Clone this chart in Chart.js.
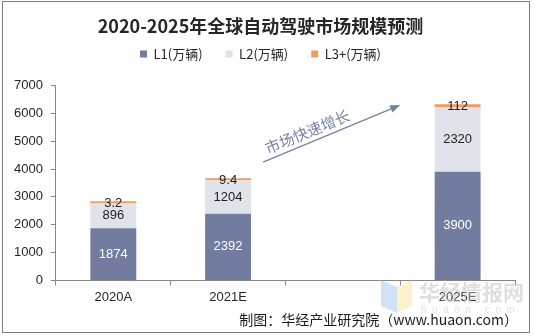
<!DOCTYPE html>
<html>
<head>
<meta charset="utf-8">
<script src="https://cdn.jsdelivr.net/npm/chart.js@4.4.1/dist/chart.umd.min.js"></script>
<style>
    body { margin: 0; background: #fff; }
    #wrap { position: relative; width: 535px; height: 336px; }
    #frame { position: absolute; left: 2px; top: 1px; width: 526px; height: 330px; border: 1px solid #808080; pointer-events: none; }
</style>
</head>
<body>
<div id="wrap">
    <canvas id="marketChart"></canvas>
    <div id="frame"></div>
</div>
<script>
// 数据
const categories = ["2020A", "2021E", "", "2025E"];
const l1Values = [1874, 2392, null, 3900];
const l2Values = [896, 1204, null, 2320];
const l3Values = [3.2, 9.4, null, 112];
const yTicks = [0, 1000, 2000, 3000, 4000, 5000, 6000, 7000];

const CJK = '"Noto Sans CJK SC", sans-serif';
const ARIAL = '"Liberation Sans", Arial, sans-serif';

// 柱内数值标签
const barLabels = {
    id: "barLabels",
    afterDatasetsDraw(chart) {
        const ctx = chart.ctx;
        ctx.save();
        ctx.font = "13px " + ARIAL;
        ctx.textAlign = "center";
        ctx.textBaseline = "middle";
        chart.data.datasets.forEach((ds, i) => {
            const meta = chart.getDatasetMeta(i);
            meta.data.forEach((bar, j) => {
                const v = ds.data[j];
                if (v === null) return;
                let y = (bar.y + bar.base) / 2;
                if (i === 2) y = bar.y + 2;
                ctx.fillStyle = i === 0 ? "#ffffff" : "#222222";
                ctx.fillText(String(v), bar.x, y);
            });
        });
        ctx.restore();
    }
};

// 图例下方留白
const legendGap = {
    id: "legendGap",
    beforeInit(chart) {
        const fit = chart.legend.fit;
        chart.legend.fit = function () {
            fit.bind(chart.legend)();
            this.height += 15;
        };
    }
};

// 箭头注释 + 来源 + 水印
const extras = {
    id: "extras",
    afterDraw(chart) {
        const ctx = chart.ctx;
        const x = chart.scales.x;
        const y = chart.scales.y;

        // 箭头
        const x0 = x.getPixelForValue(1) + 35;
        const y0 = y.getPixelForValue(4250);
        const x1 = (x.getPixelForValue(2) + x.getPixelForValue(3)) / 2;
        const y1 = y.getPixelForValue(6300);
        const ang = Math.atan2(y1 - y0, x1 - x0);
        ctx.save();
        ctx.strokeStyle = "#7780a3";
        ctx.fillStyle = "#7780a3";
        ctx.lineWidth = 1.2;
        ctx.beginPath();
        ctx.moveTo(x0, y0);
        ctx.lineTo(x1 - 8 * Math.cos(ang), y1 - 8 * Math.sin(ang));
        ctx.stroke();
        ctx.beginPath();
        ctx.moveTo(x1, y1);
        ctx.lineTo(x1 - 10 * Math.cos(ang) + 4 * Math.sin(ang), y1 - 10 * Math.sin(ang) - 4 * Math.cos(ang));
        ctx.lineTo(x1 - 10 * Math.cos(ang) - 4 * Math.sin(ang), y1 - 10 * Math.sin(ang) + 4 * Math.cos(ang));
        ctx.closePath();
        ctx.fill();

        // 文字
        const tx = (x0 + x1) / 2 - 20;
        const ty = y0 + (tx - x0) * Math.tan(ang);
        ctx.translate(tx, ty);
        ctx.rotate(ang);
        ctx.font = "15px " + CJK;
        ctx.textAlign = "center";
        ctx.textBaseline = "middle";
        ctx.fillText("市场快速增长", 0, -11);
        ctx.restore();

        // 水印
        ctx.save();
        ctx.globalAlpha = 0.55;
        ctx.fillStyle = "#a9c9f2";
        ctx.beginPath();
        ctx.moveTo(381, 280); ctx.lineTo(397, 287); ctx.lineTo(397, 313); ctx.lineTo(381, 306);
        ctx.closePath(); ctx.fill();
        ctx.fillStyle = "#fbe6a0";
        ctx.beginPath();
        ctx.moveTo(397, 287); ctx.lineTo(412, 280); ctx.lineTo(412, 306); ctx.lineTo(397, 313);
        ctx.closePath(); ctx.fill();
        ctx.fillStyle = "#c4c4c4";
        ctx.font = "bold 21px " + CJK;
        ctx.textAlign = "left";
        ctx.textBaseline = "middle";
        ctx.fillText("华经情报网", 419, 292);
        ctx.font = "10px " + ARIAL;
        ctx.fillText("h  u  a  o  n  .  c  o  m", 421, 310);
        ctx.restore();

        // 来源
        ctx.save();
        ctx.fillStyle = "#1a1a1a";
        ctx.font = "14px " + CJK;
        ctx.textAlign = "right";
        ctx.textBaseline = "middle";
        ctx.fillText("制图：华经产业研究院（www.huaon.com）", 518, 320);
        ctx.restore();
    }
};

new Chart(document.getElementById("marketChart"), {
    type: "bar",
    data: {
        labels: categories,
        datasets: [
            { label: "L1(万辆)", data: l1Values, backgroundColor: "#717c9f" },
            { label: "L2(万辆)", data: l2Values, backgroundColor: "#e0e3ea" },
            { label: "L3+(万辆)", data: l3Values, backgroundColor: "#f39c5a", minBarLength: 2 }
        ]
    },
    options: {
        responsive: true,
        maintainAspectRatio: false,
        animation: false,
        datasets: { bar: { categoryPercentage: 1, barPercentage: 0.4 } },
        layout: { padding: { left: 6, right: 20, bottom: 27, top: 0 } },
        plugins: {
            title: {
                display: true,
                text: "2020-2025年全球自动驾驶市场规模预测",
                color: "#262626",
                font: { family: CJK, size: 18, weight: "bold" },
                padding: { top: 15, bottom: -12 }
            },
            legend: {
                position: "top",
                labels: {
                    boxWidth: 7,
                    boxHeight: 7,
                    padding: 23,
                    color: "#262626",
                    font: { family: CJK, size: 13 }
                }
            },
            tooltip: { enabled: false }
        },
        scales: {
            x: {
                stacked: true,
                grid: { offset: true, drawOnChartArea: false, tickLength: 5, color: "#868686" },
                border: { color: "#868686" },
                ticks: { color: "#262626", font: { family: ARIAL, size: 13 }, padding: 4 }
            },
            y: {
                stacked: true,
                min: 0,
                max: 7000,
                afterBuildTicks(axis) { axis.ticks = yTicks.map(v => ({ value: v })); },
                grid: { drawOnChartArea: false, tickLength: 5, color: "#868686" },
                border: { color: "#868686" },
                ticks: {
                    color: "#262626",
                    font: { family: ARIAL, size: 13 },
                    padding: 8,
                    callback: v => String(v)
                }
            }
        }
    },
    plugins: [barLabels, legendGap, extras]
});
</script>
</body>
</html>
